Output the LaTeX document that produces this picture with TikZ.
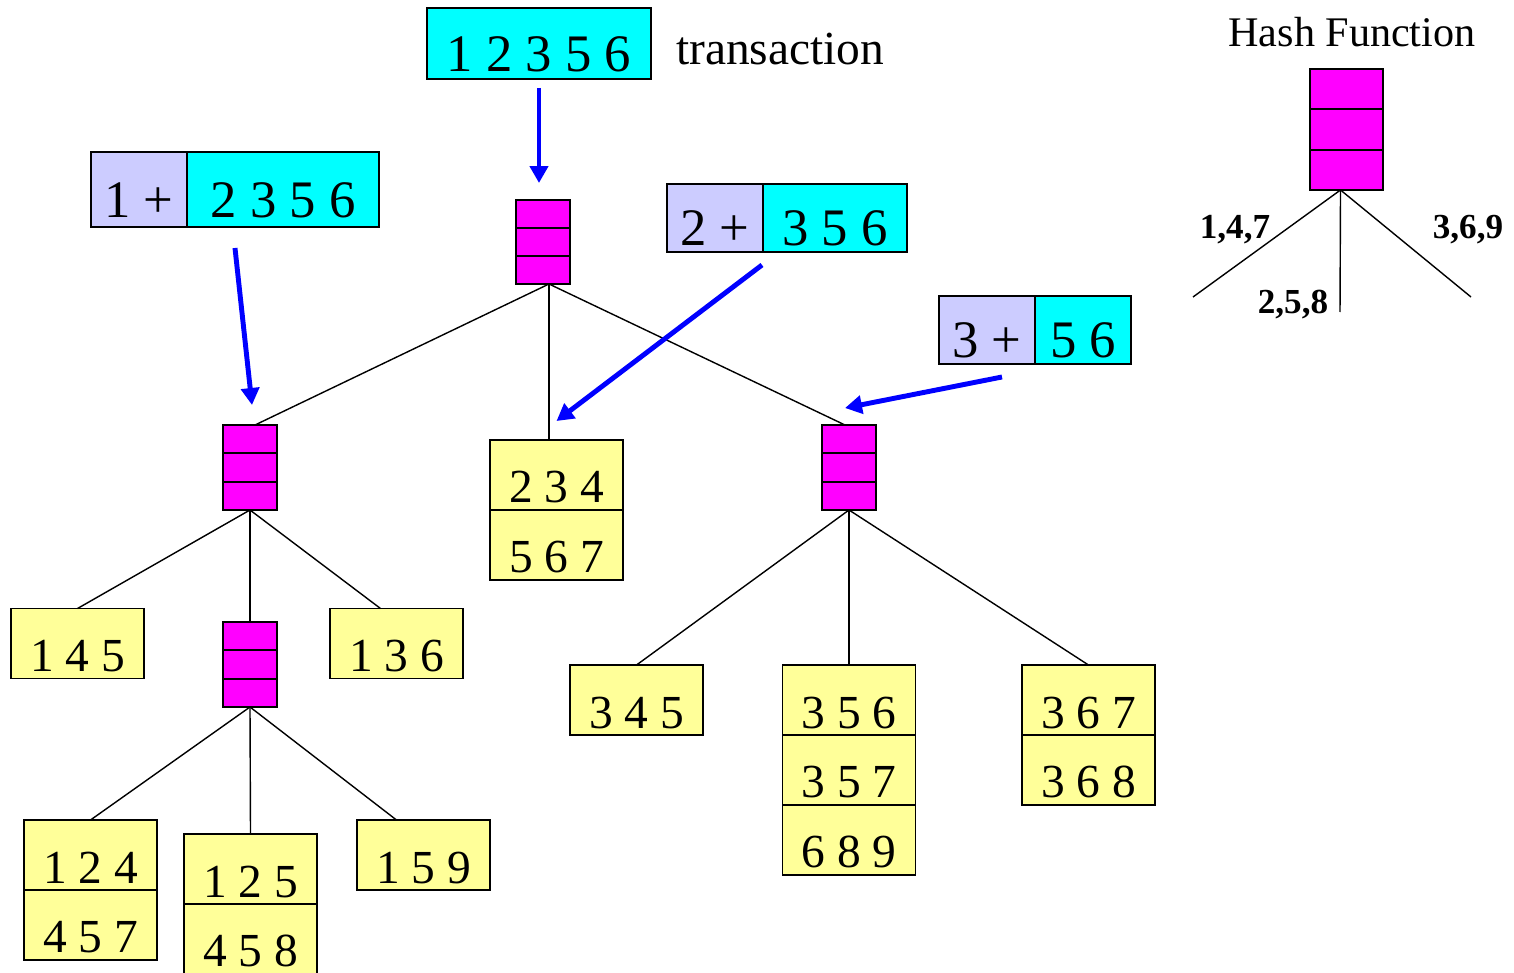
\documentclass[tikz,border=0pt]{standalone}
\usepackage{fontspec}
\setmainfont{Liberation Serif}
\usetikzlibrary{arrows.meta, positioning, calc}
\definecolor{hashpink}{RGB}{255,0,255}
\definecolor{leafyellow}{RGB}{255,255,153}
\definecolor{itemcyan}{RGB}{0,255,255}
\definecolor{prefixblue}{RGB}{204,204,255}

\begin{document}
\begin{tikzpicture}[x=0.02cm, y=-0.02cm,
  hashbox/.style={draw, line width=1.1pt, fill=hashpink, inner sep=0pt, outer sep=0pt,
    minimum width=1.08cm, minimum height=1.7cm,
    path picture={
      \draw[line width=1.1pt] ($(path picture bounding box.north west)!1/3!(path picture bounding box.south west)$)
        -- ($(path picture bounding box.north east)!1/3!(path picture bounding box.south east)$);
      \draw[line width=1.1pt] ($(path picture bounding box.north west)!2/3!(path picture bounding box.south west)$)
        -- ($(path picture bounding box.north east)!2/3!(path picture bounding box.south east)$);
    }},
  leaf/.style={draw, line width=1.1pt, fill=leafyellow, inner sep=1pt, outer sep=0pt,
    minimum width=2.66cm, minimum height=1.4cm, text height=1.12cm, text depth=0pt,
    font={\fontsize{27}{32}\selectfont}},
  itembox/.style={draw, line width=1.1pt, fill=itemcyan, inner sep=1pt, outer sep=0pt,
    text height=1.12cm, text depth=0pt, font={\fontsize{30}{36}\selectfont}},
  prefixbox/.style={itembox, fill=prefixblue, minimum width=1.92cm},
  branch/.style={line width=0.8pt},
  flow/.style={draw=blue, line width=2.8pt, -{Triangle[length=0.34cm,width=0.36cm]}},
  hashlabel/.style={font={\bfseries\fontsize{20}{24}\selectfont}, anchor=base}]
\useasboundingbox (0,0) rectangle (1514,973);

% Transaction
\node[itembox, minimum width=4.48cm, minimum height=1.42cm] (trans) at (539,43.5) {1 2 3 5 6};
\node[anchor=base west, font={\fontsize{27}{32}\selectfont}] (translabel) at (670,65) {transaction};

% Root hash
\node[hashbox, minimum height=1.68cm] (root) at (543,242) {};

% Split transactions
\node[prefixbox, minimum height=1.5cm] (c1a) at (139,189.5) {1 +};
\node[itembox, minimum width=3.84cm, minimum height=1.5cm, right=0pt of c1a] (c1b) {2 3 5 6};
\node[prefixbox, minimum height=1.36cm] (c2a) at (715,218) {2 +};
\node[itembox, minimum width=2.88cm, minimum height=1.36cm, right=0pt of c2a] (c2b) {3 5 6};
\node[prefixbox, minimum height=1.36cm] (c3a) at (987,330) {3 +};
\node[itembox, minimum width=1.92cm, minimum height=1.36cm, right=0pt of c3a] (c3b) {5 6};

% Second level
\node[hashbox] (lhash) at (250,467.5) {};
\node[hashbox] (rhash) at (849,467.5) {};
\node[leaf] (r234) at (556.5,475) {2 3 4};
\node[leaf, below=0pt of r234] (r567) {5 6 7};

% Under left hash
\node[leaf] (r145) at (77.5,643.5) {1 4 5};
\node[leaf] (r136) at (396.5,643.5) {1 3 6};
\node[hashbox] (bhash) at (250,664.5) {};
\node[leaf] (r124) at (90.5,855) {1 2 4};
\node[leaf, below=0pt of r124] (r457) {4 5 7};
\node[leaf] (r125) at (250.5,869) {1 2 5};
\node[leaf, below=0pt of r125] (r458) {4 5 8};
\node[leaf] (r159) at (423.5,855) {1 5 9};

% Under right hash
\node[leaf] (r345) at (636.5,700) {3 4 5};
\node[leaf] (r356) at (849,700) {3 5 6};
\node[leaf, below=0pt of r356] (r357) {3 5 7};
\node[leaf, below=0pt of r357] (r689) {6 8 9};
\node[leaf] (r367) at (1088.5,700) {3 6 7};
\node[leaf, below=0pt of r367] (r368) {3 6 8};

% Tree branches
\draw[branch] ([xshift=0.12cm]root.south) -- ([xshift=0.1cm]lhash.north);
\draw[branch] ([xshift=0.12cm]root.south) -- ([xshift=0.12cm]root.south |- r234.north);
\draw[branch] ([xshift=0.12cm]root.south) -- ([xshift=-0.08cm]rhash.north);
\draw[branch] (lhash.south) -- (r145.north);
\draw[branch] (lhash.south) -- (bhash.north);
\draw[branch] (lhash.south) -- ([shift={(-16,0)}]r136.north);
\draw[branch] (bhash.south) -- (r124.north);
\draw[branch] (bhash.south) -- (r125.north);
\draw[branch] (bhash.south) -- ([shift={(-27,0)}]r159.north);
\draw[branch] (rhash.south) -- (r345.north);
\draw[branch] (rhash.south) -- (r356.north);
\draw[branch] (rhash.south) -- (r367.north);

% Blue arrows
\draw[flow, shorten <=0.18cm, shorten >=0.34cm] ([xshift=-0.08cm]root.north |- trans.south) -- ([xshift=-0.08cm]root.north);
\draw[flow] ([shift={(48,21)}]c1a.south east) -- ([shift={(2,-20)}]lhash.north);
\draw[flow] ([shift={(-1,13)}]c2a.south east) -- ([shift={(0,-19)}]r234.north);
\draw[flow] ([shift={(-33,13)}]c3b.south west) -- ([shift={(-4,-17)}]rhash.north);

% Hash function legend
\node[anchor=base, font={\fontsize{24}{29}\selectfont}] (hashtitle) at (1352,47) {Hash Function};
\node[hashbox, minimum width=1.46cm, minimum height=2.42cm] (fhash) at (1346.5,129.5) {};
\coordinate (f147) at (1193,297);
\coordinate (f258) at (1340,312);
\coordinate (f369) at (1471,297);
\draw[branch] ([xshift=-0.12cm]fhash.south) -- (f147);
\draw[branch] ([xshift=-0.12cm]fhash.south) -- (f258);
\draw[branch] ([xshift=-0.12cm]fhash.south) -- (f369);
\node[hashlabel] (l147) at (1235,238) {1,4,7};
\node[hashlabel] (l258) at (1293,313) {2,5,8};
\node[hashlabel] (l369) at (1468,238) {3,6,9};
\end{tikzpicture}
\end{document}
